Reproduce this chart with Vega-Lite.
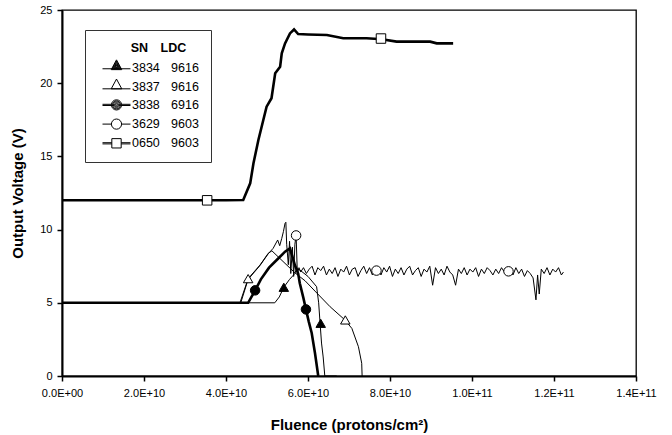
{
  "$schema": "https://vega.github.io/schema/vega-lite/v6.json",
  "width": 574,
  "height": 366,
  "autosize": "none",
  "padding": {"left": 62, "top": 10, "right": 36, "bottom": 59},
  "background": "white",
  "config": {
    "view": {"stroke": "black", "strokeWidth": 1.3},
    "axis": {
      "grid": false,
      "domainColor": "black",
      "domainWidth": 2,
      "tickColor": "black",
      "tickWidth": 1.5,
      "tickSize": 5,
      "labelFont": "Liberation Sans",
      "labelFontSize": 11,
      "labelColor": "black",
      "titleFont": "Liberation Sans",
      "titleFontSize": 15,
      "titleFontWeight": "bold",
      "titleColor": "black"
    }
  },
  "datasets": {
    "curves": [
      {"series": "0650", "fluence": 0, "voltage": 12.0},
      {"series": "0650", "fluence": 10, "voltage": 12.0},
      {"series": "0650", "fluence": 20, "voltage": 12.0},
      {"series": "0650", "fluence": 30, "voltage": 12.0},
      {"series": "0650", "fluence": 40, "voltage": 12.0},
      {"series": "0650", "fluence": 44.2, "voltage": 12.02},
      {"series": "0650", "fluence": 45.9, "voltage": 13.16},
      {"series": "0650", "fluence": 46.7, "voltage": 14.53},
      {"series": "0650", "fluence": 47.9, "voltage": 16.12},
      {"series": "0650", "fluence": 49.1, "voltage": 17.49},
      {"series": "0650", "fluence": 49.9, "voltage": 18.4},
      {"series": "0650", "fluence": 51.1, "voltage": 18.97},
      {"series": "0650", "fluence": 52.0, "voltage": 20.68},
      {"series": "0650", "fluence": 53.2, "voltage": 21.13},
      {"series": "0650", "fluence": 53.6, "voltage": 22.04},
      {"series": "0650", "fluence": 54.4, "voltage": 22.72},
      {"series": "0650", "fluence": 55.6, "voltage": 23.4},
      {"series": "0650", "fluence": 56.6, "voltage": 23.67},
      {"series": "0650", "fluence": 57.6, "voltage": 23.36},
      {"series": "0650", "fluence": 60.0, "voltage": 23.33},
      {"series": "0650", "fluence": 64.6, "voltage": 23.29},
      {"series": "0650", "fluence": 68.6, "voltage": 23.07},
      {"series": "0650", "fluence": 74.3, "voltage": 23.07},
      {"series": "0650", "fluence": 78.0, "voltage": 23.0},
      {"series": "0650", "fluence": 81.6, "voltage": 22.84},
      {"series": "0650", "fluence": 89.8, "voltage": 22.84},
      {"series": "0650", "fluence": 91.4, "voltage": 22.72},
      {"series": "0650", "fluence": 95.4, "voltage": 22.72},

      {"series": "3834", "fluence": 0, "voltage": 5.0},
      {"series": "3834", "fluence": 51.9, "voltage": 5.0},
      {"series": "3834", "fluence": 53.0, "voltage": 5.4},
      {"series": "3834", "fluence": 54.1, "voltage": 6.06},
      {"series": "3834", "fluence": 55.5, "voltage": 6.6},
      {"series": "3834", "fluence": 56.8, "voltage": 7.0},
      {"series": "3834", "fluence": 57.2, "voltage": 7.35},
      {"series": "3834", "fluence": 58.0, "voltage": 7.24},
      {"series": "3834", "fluence": 60.0, "voltage": 6.8},
      {"series": "3834", "fluence": 62.1, "voltage": 6.1},
      {"series": "3834", "fluence": 62.6, "voltage": 5.0},
      {"series": "3834", "fluence": 62.9, "voltage": 3.8},
      {"series": "3834", "fluence": 63.3, "voltage": 2.25},
      {"series": "3834", "fluence": 63.7, "voltage": 1.3},
      {"series": "3834", "fluence": 64.1, "voltage": 0.0},
      {"series": "3834", "fluence": 67.0, "voltage": 0.0},

      {"series": "3837", "fluence": 0, "voltage": 5.0},
      {"series": "3837", "fluence": 43.4, "voltage": 5.0},
      {"series": "3837", "fluence": 45.4, "voltage": 6.65},
      {"series": "3837", "fluence": 48.3, "voltage": 7.58},
      {"series": "3837", "fluence": 50.3, "voltage": 8.38},
      {"series": "3837", "fluence": 51.2, "voltage": 8.55},
      {"series": "3837", "fluence": 56.8, "voltage": 7.05},
      {"series": "3837", "fluence": 59.3, "voltage": 6.5},
      {"series": "3837", "fluence": 61.7, "voltage": 5.8},
      {"series": "3837", "fluence": 65.4, "voltage": 4.73},
      {"series": "3837", "fluence": 69.0, "voltage": 3.83},
      {"series": "3837", "fluence": 70.7, "voltage": 3.25},
      {"series": "3837", "fluence": 72.3, "voltage": 2.0},
      {"series": "3837", "fluence": 73.1, "voltage": 0.87},
      {"series": "3837", "fluence": 73.2, "voltage": 0.0},

      {"series": "3838", "fluence": 0, "voltage": 5.0},
      {"series": "3838", "fluence": 45.4, "voltage": 5.0},
      {"series": "3838", "fluence": 47.1, "voltage": 5.85},
      {"series": "3838", "fluence": 48.5, "voltage": 6.6},
      {"series": "3838", "fluence": 50.5, "voltage": 7.4},
      {"series": "3838", "fluence": 52.8, "voltage": 8.04},
      {"series": "3838", "fluence": 54.4, "voltage": 8.49},
      {"series": "3838", "fluence": 55.6, "voltage": 8.72},
      {"series": "3838", "fluence": 56.8, "voltage": 7.58},
      {"series": "3838", "fluence": 57.6, "voltage": 7.0},
      {"series": "3838", "fluence": 58.0, "voltage": 6.33},
      {"series": "3838", "fluence": 58.9, "voltage": 5.3},
      {"series": "3838", "fluence": 59.5, "voltage": 4.55},
      {"series": "3838", "fluence": 60.2, "voltage": 3.7},
      {"series": "3838", "fluence": 60.9, "voltage": 2.94},
      {"series": "3838", "fluence": 61.7, "voltage": 1.57},
      {"series": "3838", "fluence": 62.5, "voltage": 0.0},

      {"series": "3629", "fluence": 0, "voltage": 5.0},
      {"series": "3629", "fluence": 43.6, "voltage": 5.0},
      {"series": "3629", "fluence": 45.4, "voltage": 6.6},
      {"series": "3629", "fluence": 48.3, "voltage": 7.55},
      {"series": "3629", "fluence": 50.3, "voltage": 8.35},
      {"series": "3629", "fluence": 51.5, "voltage": 8.72},
      {"series": "3629", "fluence": 52.6, "voltage": 9.29},
      {"series": "3629", "fluence": 53.1, "voltage": 8.9},
      {"series": "3629", "fluence": 53.6, "voltage": 9.4},
      {"series": "3629", "fluence": 54.0, "voltage": 9.86},
      {"series": "3629", "fluence": 54.4, "voltage": 10.43},
      {"series": "3629", "fluence": 54.6, "voltage": 10.5},
      {"series": "3629", "fluence": 54.8, "voltage": 9.0},
      {"series": "3629", "fluence": 55.2, "voltage": 7.6},
      {"series": "3629", "fluence": 55.5, "voltage": 9.2},
      {"series": "3629", "fluence": 55.8, "voltage": 7.0},
      {"series": "3629", "fluence": 56.2, "voltage": 8.8},
      {"series": "3629", "fluence": 56.5, "voltage": 6.8},
      {"series": "3629", "fluence": 56.8, "voltage": 9.0},
      {"series": "3629", "fluence": 57.1, "voltage": 9.6},
      {"series": "3629", "fluence": 57.4, "voltage": 7.0},
      {"series": "3629", "fluence": 57.8, "voltage": 7.4},
      {"series": "3629", "fluence": 58.2, "voltage": 7.1},
      {"series": "3629", "fluence": 58.9, "voltage": 7.4},
      {"series": "3629", "fluence": 59.6, "voltage": 7.0},
      {"series": "3629", "fluence": 60.3, "voltage": 7.3},
      {"series": "3629", "fluence": 61.0, "voltage": 7.5},
      {"series": "3629", "fluence": 61.7, "voltage": 6.9},
      {"series": "3629", "fluence": 62.4, "voltage": 7.4},
      {"series": "3629", "fluence": 63.1, "voltage": 7.2},
      {"series": "3629", "fluence": 63.8, "voltage": 7.5},
      {"series": "3629", "fluence": 64.5, "voltage": 6.9},
      {"series": "3629", "fluence": 65.2, "voltage": 7.3},
      {"series": "3629", "fluence": 65.9, "voltage": 7.0},
      {"series": "3629", "fluence": 66.6, "voltage": 7.4},
      {"series": "3629", "fluence": 67.3, "voltage": 6.8},
      {"series": "3629", "fluence": 68.0, "voltage": 7.3},
      {"series": "3629", "fluence": 68.7, "voltage": 7.1},
      {"series": "3629", "fluence": 69.4, "voltage": 7.5},
      {"series": "3629", "fluence": 70.1, "voltage": 6.9},
      {"series": "3629", "fluence": 70.8, "voltage": 7.3},
      {"series": "3629", "fluence": 71.5, "voltage": 7.4},
      {"series": "3629", "fluence": 72.2, "voltage": 6.8},
      {"series": "3629", "fluence": 72.9, "voltage": 7.2},
      {"series": "3629", "fluence": 73.6, "voltage": 7.5},
      {"series": "3629", "fluence": 74.3, "voltage": 7.0},
      {"series": "3629", "fluence": 75.0, "voltage": 7.4},
      {"series": "3629", "fluence": 75.7, "voltage": 6.9},
      {"series": "3629", "fluence": 76.4, "voltage": 7.2},
      {"series": "3629", "fluence": 77.1, "voltage": 7.3},
      {"series": "3629", "fluence": 77.8, "voltage": 6.9},
      {"series": "3629", "fluence": 78.5, "voltage": 7.4},
      {"series": "3629", "fluence": 79.2, "voltage": 7.1},
      {"series": "3629", "fluence": 79.9, "voltage": 7.5},
      {"series": "3629", "fluence": 80.6, "voltage": 6.8},
      {"series": "3629", "fluence": 81.3, "voltage": 7.3},
      {"series": "3629", "fluence": 82.0, "voltage": 7.0},
      {"series": "3629", "fluence": 82.7, "voltage": 7.4},
      {"series": "3629", "fluence": 83.4, "voltage": 6.9},
      {"series": "3629", "fluence": 84.1, "voltage": 7.3},
      {"series": "3629", "fluence": 84.8, "voltage": 7.5},
      {"series": "3629", "fluence": 85.5, "voltage": 6.9},
      {"series": "3629", "fluence": 86.2, "voltage": 7.2},
      {"series": "3629", "fluence": 86.9, "voltage": 7.4},
      {"series": "3629", "fluence": 87.6, "voltage": 6.8},
      {"series": "3629", "fluence": 88.3, "voltage": 7.3},
      {"series": "3629", "fluence": 89.0, "voltage": 7.1},
      {"series": "3629", "fluence": 89.7, "voltage": 7.5},
      {"series": "3629", "fluence": 90.4, "voltage": 6.2},
      {"series": "3629", "fluence": 91.1, "voltage": 7.4},
      {"series": "3629", "fluence": 91.8, "voltage": 7.0},
      {"series": "3629", "fluence": 92.5, "voltage": 7.3},
      {"series": "3629", "fluence": 93.2, "voltage": 6.9},
      {"series": "3629", "fluence": 93.9, "voltage": 7.5},
      {"series": "3629", "fluence": 94.6, "voltage": 7.1},
      {"series": "3629", "fluence": 95.3, "voltage": 6.9},
      {"series": "3629", "fluence": 96.0, "voltage": 6.2},
      {"series": "3629", "fluence": 96.7, "voltage": 7.3},
      {"series": "3629", "fluence": 97.4, "voltage": 7.0},
      {"series": "3629", "fluence": 98.1, "voltage": 7.4},
      {"series": "3629", "fluence": 98.8, "voltage": 6.9},
      {"series": "3629", "fluence": 99.5, "voltage": 7.3},
      {"series": "3629", "fluence": 100.2, "voltage": 7.1},
      {"series": "3629", "fluence": 100.9, "voltage": 7.4},
      {"series": "3629", "fluence": 101.6, "voltage": 6.8},
      {"series": "3629", "fluence": 102.3, "voltage": 7.3},
      {"series": "3629", "fluence": 103.0, "voltage": 7.0},
      {"series": "3629", "fluence": 103.7, "voltage": 7.4},
      {"series": "3629", "fluence": 104.4, "voltage": 7.2},
      {"series": "3629", "fluence": 105.1, "voltage": 6.9},
      {"series": "3629", "fluence": 105.8, "voltage": 7.3},
      {"series": "3629", "fluence": 106.5, "voltage": 7.0},
      {"series": "3629", "fluence": 107.2, "voltage": 7.4},
      {"series": "3629", "fluence": 107.9, "voltage": 7.1},
      {"series": "3629", "fluence": 108.6, "voltage": 7.2},
      {"series": "3629", "fluence": 109.3, "voltage": 7.2},
      {"series": "3629", "fluence": 110.0, "voltage": 6.9},
      {"series": "3629", "fluence": 110.7, "voltage": 7.4},
      {"series": "3629", "fluence": 111.4, "voltage": 7.0},
      {"series": "3629", "fluence": 112.1, "voltage": 7.3},
      {"series": "3629", "fluence": 112.8, "voltage": 6.8},
      {"series": "3629", "fluence": 113.5, "voltage": 7.2},
      {"series": "3629", "fluence": 114.2, "voltage": 7.0},
      {"series": "3629", "fluence": 114.9, "voltage": 6.7},
      {"series": "3629", "fluence": 115.6, "voltage": 5.2},
      {"series": "3629", "fluence": 116.0, "voltage": 6.9},
      {"series": "3629", "fluence": 116.4, "voltage": 5.6},
      {"series": "3629", "fluence": 116.9, "voltage": 7.3},
      {"series": "3629", "fluence": 117.6, "voltage": 7.0},
      {"series": "3629", "fluence": 118.3, "voltage": 7.4},
      {"series": "3629", "fluence": 119.0, "voltage": 6.9},
      {"series": "3629", "fluence": 119.7, "voltage": 7.3},
      {"series": "3629", "fluence": 120.4, "voltage": 7.1},
      {"series": "3629", "fluence": 121.1, "voltage": 7.4},
      {"series": "3629", "fluence": 121.8, "voltage": 6.9},
      {"series": "3629", "fluence": 122.3, "voltage": 7.1}
    ],
    "markers": [
      {"series": "0650", "fluence": 35.4, "voltage": 12.0},
      {"series": "0650", "fluence": 77.8, "voltage": 23.05},
      {"series": "3834", "fluence": 54.1, "voltage": 6.06},
      {"series": "3834", "fluence": 63.1, "voltage": 3.6},
      {"series": "3837", "fluence": 45.4, "voltage": 6.65},
      {"series": "3837", "fluence": 69.1, "voltage": 3.83},
      {"series": "3838", "fluence": 47.1, "voltage": 5.85},
      {"series": "3838", "fluence": 59.5, "voltage": 4.55},
      {"series": "3629", "fluence": 57.1, "voltage": 9.6},
      {"series": "3629", "fluence": 76.7, "voltage": 7.2},
      {"series": "3629", "fluence": 108.9, "voltage": 7.15}
    ],
    "legendRows": [
      {"series": "3834"},
      {"series": "3837"},
      {"series": "3838"},
      {"series": "3629"},
      {"series": "0650"}
    ]
  },
  "encoding": {
    "x": {
      "field": "fluence",
      "type": "quantitative",
      "scale": {"domain": [0, 140], "nice": false},
      "axis": {
        "values": [0, 20, 40, 60, 80, 100, 120, 140],
        "labelExpr": "datum.value == 0 ? '0.0E+00' : upper(format(datum.value * 1e9, '.1e'))",
        "labelFlush": false,
        "labelOverlap": false,
        "labelBound": false,
        "labelPadding": 6,
        "title": "Fluence (protons/cm²)",
        "titlePadding": 19
      }
    },
    "y": {
      "field": "voltage",
      "type": "quantitative",
      "scale": {"domain": [0, 25], "nice": false},
      "axis": {
        "values": [0, 5, 10, 15, 20, 25],
        "labelPadding": 5,
        "title": "Output Voltage (V)",
        "titlePadding": 14
      }
    }
  },
  "layer": [
    {
      "data": {"name": "curves"},
      "mark": {"type": "line", "color": "black", "interpolate": "linear"},
      "encoding": {
        "detail": {"field": "series", "type": "nominal"},
        "strokeWidth": {
          "condition": {"test": "datum.series == '0650' || datum.series == '3838'", "value": 2.6},
          "value": 1
        }
      }
    },
    {
      "data": {"name": "markers"},
      "mark": {"type": "point", "filled": true, "stroke": "black", "strokeWidth": 1, "size": 90, "opacity": 1},
      "encoding": {
        "shape": {
          "field": "series",
          "type": "nominal",
          "scale": {"domain": ["3834", "3837", "3838", "3629", "0650"], "range": ["triangle-up", "triangle-up", "circle", "circle", "square"]},
          "legend": null
        },
        "fill": {
          "field": "series",
          "type": "nominal",
          "scale": {"domain": ["3834", "3837", "3838", "3629", "0650"], "range": ["black", "white", "black", "white", "white"]},
          "legend": null
        }
      }
    },
    {
      "data": {"name": "legendRows"},
      "mark": {"type": "point", "filled": false, "color": "black", "strokeWidth": 1, "opacity": 0, "size": 289},
      "encoding": {
        "x": {"value": 0},
        "y": {"value": 0},
        "shape": {
          "field": "series",
          "type": "nominal",
          "scale": {
            "domain": ["3834", "3837", "3838", "3629", "0650"],
            "range": [
              "M-0.41,0.15H2.88M1.235,-0.9L1.855,0.25L0.615,0.25ZM1.235,-0.747L1.731,0.173L0.739,0.173ZM1.235,-0.593L1.607,0.097L0.863,0.097ZM1.235,-0.44L1.483,0.02L0.987,0.02ZM1.235,-0.286L1.359,-0.056L1.111,-0.056Z",
              "M-0.41,0.25H2.88M1.235,-0.9L1.855,0.25L0.615,0.25Z",
              "M-0.41,-0.07H0.635M-0.41,0.07H0.635M1.835,-0.07H2.88M1.835,0.07H2.88M0.635,0A0.6,0.6 0 1,0 1.835,0A0.6,0.6 0 1,0 0.635,0ZM0.755,0A0.48,0.48 0 1,0 1.715,0A0.48,0.48 0 1,0 0.755,0ZM0.875,0A0.36,0.36 0 1,0 1.595,0A0.36,0.36 0 1,0 0.875,0ZM0.995,0A0.24,0.24 0 1,0 1.475,0A0.24,0.24 0 1,0 0.995,0ZM1.115,0A0.12,0.12 0 1,0 1.355,0A0.12,0.12 0 1,0 1.115,0Z",
              "M-0.41,0H0.635M1.835,0H2.88M0.635,0A0.6,0.6 0 1,0 1.835,0A0.6,0.6 0 1,0 0.635,0Z",
              "M-0.41,-0.07H0.685M-0.41,0.07H0.685M1.785,-0.07H2.88M1.785,0.07H2.88M0.685,-0.55H1.785V0.55H0.685Z"
            ]
          },
          "legend": {
            "orient": "none",
            "legendX": 23,
            "legendY": 20,
            "title": "\u200b\u2003\u2003\u2002\u2009SN\u2002\u2002LDC",
            "titleFont": "Liberation Sans",
            "titleFontSize": 12.5,
            "titleFontWeight": "bold",
            "titleColor": "black",
            "titlePadding": 4,
            "labelFont": "Liberation Sans",
            "labelFontSize": 12.5,
            "labelColor": "black",
            "labelOffset": 17,
            "labelExpr": "datum.label == '3834' ? '3834\u2002\u2009\u20099616' : datum.label == '3837' ? '3837\u2002\u2009\u20099616' : datum.label == '3838' ? '3838\u2002\u2009\u20096916' : datum.label == '3629' ? '3629\u2002\u2009\u20099603' : '0650\u2002\u2009\u20099603'",
            "symbolSize": 289,
            "symbolOpacity": 1,
            "symbolStrokeColor": "black",
            "symbolStrokeWidth": 1,
            "padding": 12,
            "rowPadding": 2.2,
            "strokeColor": "#333333",
            "fillColor": "white"
          }
        }
      }
    }
  ],
  "resolve": {
    "scale": {"shape": "independent", "fill": "independent"}
  }
}
